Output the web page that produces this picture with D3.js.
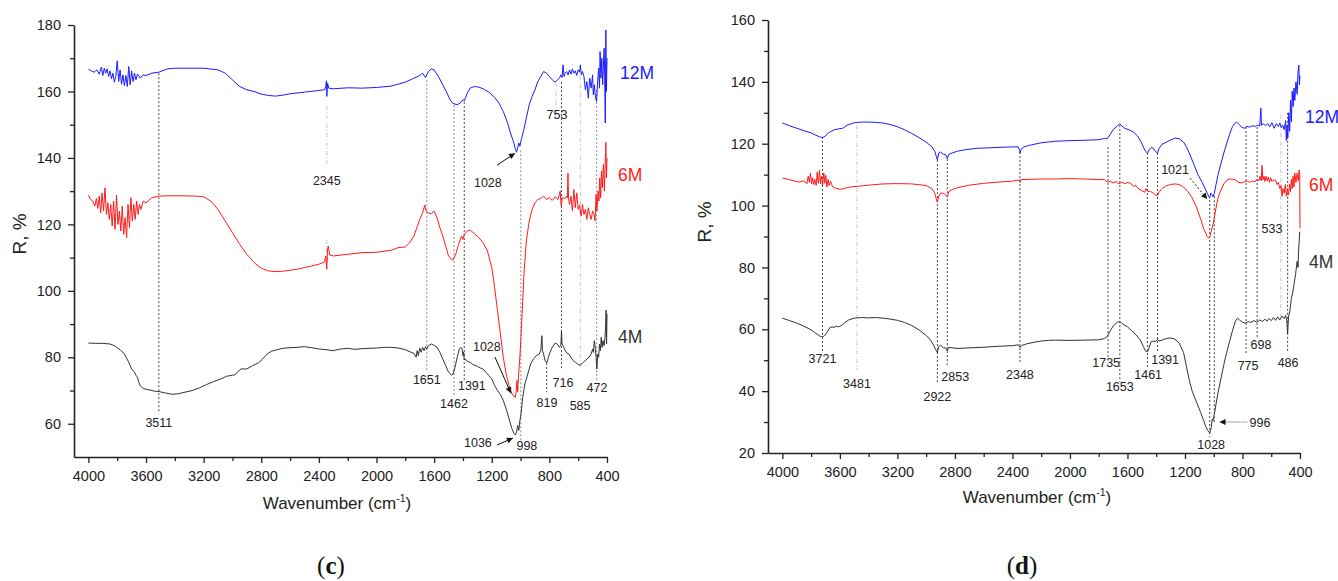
<!DOCTYPE html>
<html>
<head>
<meta charset="utf-8">
<script src="https://cdn.jsdelivr.net/npm/d3@7"></script>
<style>
body { margin: 0; background: #fff; }
</style>
</head>
<body>
<script>
const W = 1338, H = 581;

// ---------- data: panel (c) ----------
const c12M = [[4000,166.7],[3980,166.2],[3960,165.8],[3940,166.5],[3925,165.2],[3910,167.3],[3900,164.8],[3890,167],[3880,165.5],[3870,166.8],[3860,164.5],[3850,166.2],[3840,163.8],[3830,165.5],[3820,162.8],[3810,164.5],[3800,169.2],[3790,163],[3780,166.5],[3770,162.2],[3760,165],[3750,161.8],[3740,164.8],[3730,161.5],[3720,167.5],[3710,162],[3700,166.2],[3690,163],[3680,165.5],[3670,163.5],[3660,165.2],[3640,164],[3620,165],[3600,164.8],[3560,165.5],[3511,165.8],[3450,166.8],[3400,167],[3300,167],[3200,167],[3100,166.5],[3050,165.5],[3000,163.5],[2950,161.5],[2900,160.5],[2850,160],[2800,159.2],[2750,158.8],[2700,158.6],[2650,158.9],[2600,159.3],[2500,159.8],[2400,160.3],[2360,160.5],[2352,161.5],[2348,163.2],[2345,158.5],[2340,162.5],[2332,161],[2300,160.8],[2200,161.1],[2100,161],[2000,161.2],[1900,161.6],[1850,162.2],[1800,162.8],[1750,163.8],[1700,164.8],[1680,165.5],[1660,164.2],[1651,165],[1640,166],[1620,166.8],[1600,166.5],[1570,164.5],[1540,162],[1510,159.5],[1490,157.5],[1470,156.4],[1440,156],[1420,156.5],[1400,157.5],[1390,157.2],[1370,159.5],[1350,161],[1320,161.5],[1290,161.3],[1260,160.8],[1220,159.8],[1180,158.2],[1150,156.5],[1120,154],[1090,150.5],[1070,147.5],[1050,145],[1035,142.5],[1028,141.7],[1020,143],[1012,144.5],[1005,143.5],[995,145.5],[980,148],[960,152],[940,156],[920,158.5],[900,160.5],[880,163],[860,164.5],[840,166],[820,165.5],[800,164.5],[780,163.5],[760,162.8],[745,163.5],[730,164],[720,165],[712,164.2],[705,168],[698,164.5],[690,165.5],[680,166],[670,165],[660,166.5],[650,165.2],[640,166.8],[630,165.5],[620,166.2],[610,164.8],[600,166.5],[590,165.8],[585,168],[578,165],[570,166],[560,164.5],[550,160.5],[540,163],[530,158],[520,164],[510,161],[500,165],[495,159],[488,162],[480,158.3],[472,157],[465,163],[458,167],[452,161],[448,172],[442,164],[436,170],[430,162],[425,168],[420,173],[416,165],[412,150.5],[408,178.5],[404,160],[400,170]];

const c6M = [[4000,128.8],[3985,127.5],[3970,127],[3955,125.5],[3945,127.8],[3935,124.8],[3925,128.5],[3915,123.5],[3905,129.5],[3895,124],[3885,131],[3875,123],[3865,126.5],[3855,121.5],[3845,126],[3835,119.5],[3825,127],[3815,118.5],[3805,128.8],[3795,120],[3785,124],[3775,118],[3765,125.5],[3755,117],[3745,122],[3735,116],[3725,126],[3715,119],[3705,128],[3695,121],[3685,126],[3675,121.5],[3665,127],[3655,123],[3645,126],[3635,124.5],[3620,127],[3600,126.5],[3560,128],[3511,128.5],[3450,128.6],[3350,128.6],[3250,128.5],[3200,128.3],[3150,127],[3100,124.5],[3050,121],[3000,117.5],[2950,114],[2900,111],[2850,108.5],[2800,106.8],[2750,106],[2700,105.8],[2650,105.9],[2600,106.2],[2550,106.5],[2500,107],[2450,107.5],[2400,108],[2360,108.7],[2352,110.5],[2348,108],[2345,106.5],[2340,112.5],[2335,113.5],[2325,110.8],[2300,110.5],[2200,111],[2100,111.5],[2000,111.6],[1900,112.2],[1850,113],[1800,113.2],[1770,114.5],[1740,116.5],[1720,119],[1700,121.5],[1680,123.5],[1665,125.8],[1655,124],[1640,123.5],[1620,123.2],[1600,124],[1580,122],[1560,119],[1540,116.5],[1520,113.5],[1500,110.5],[1480,109.5],[1470,109.2],[1450,111],[1430,114],[1410,116.5],[1400,115.5],[1390,117],[1370,118],[1350,118.3],[1320,117.2],[1290,116],[1260,114.5],[1230,112],[1200,107],[1180,101],[1160,94],[1140,87],[1120,80],[1100,75],[1080,71.5],[1060,69],[1045,68.2],[1036,68],[1030,70],[1025,73],[1020,69.5],[1015,74],[1005,80],[995,88],[985,97],[975,106],[960,115],[940,121],[920,124.5],[900,126.5],[880,127.5],[860,127.8],[840,128.5],[820,127.5],[800,128],[780,127.2],[760,128.3],[740,127.5],[725,130],[718,125.5],[710,128],[700,128],[690,127.8],[680,128.5],[675,128],[671,135.4],[667,128],[660,126],[650,128.5],[640,124],[630,130.5],[620,125],[610,129.5],[600,124.5],[590,125.8],[580,122.5],[570,126],[560,123],[550,124.5],[540,121.5],[530,125],[520,123],[510,121.5],[500,124],[490,123],[483,121],[476,129],[470,124],[462,130],[456,127],[450,134],[444,128],[438,136],[432,131],[425,138],[418,130],[412,139],[408,144.7],[404,134],[400,140]];

const c4M = [[4000,84.3],[3950,84.2],[3900,84.2],[3850,84],[3820,83.5],[3780,82.3],[3750,81],[3720,78.5],[3700,76.5],[3680,75.5],[3670,74.6],[3660,74],[3650,72.5],[3640,71.4],[3620,70.6],[3580,70.2],[3540,69.8],[3511,69.7],[3470,69.3],[3420,68.9],[3380,69],[3330,69.5],[3280,70],[3230,70.8],[3180,71.8],[3130,72.7],[3080,73.5],[3040,74.3],[3000,74.6],[2980,74.8],[2960,75.8],[2940,76.5],[2900,76.5],[2860,77.5],[2820,78.3],[2790,79.5],[2760,81],[2730,81.8],[2700,82.2],[2650,82.7],[2600,82.9],[2550,83],[2500,83.2],[2450,82.9],[2400,82.5],[2350,82.3],[2300,82],[2250,82.5],[2200,82.7],[2150,82.4],[2100,82.6],[2000,82.8],[1950,83],[1900,83],[1850,82.8],[1800,82.3],[1760,81.5],[1740,81.2],[1725,80],[1718,82],[1710,80.5],[1700,82.8],[1690,81.5],[1680,83],[1670,82],[1660,83.2],[1651,82.5],[1640,83.5],[1620,84],[1600,83.6],[1580,83],[1560,81.5],[1540,79.5],[1520,77.5],[1500,75.5],[1480,74.7],[1470,74.8],[1455,77],[1440,80],[1425,82.5],[1415,83],[1405,82.5],[1400,80.5],[1395,81.5],[1391,79.2],[1385,79.5],[1370,78.8],[1350,78.5],[1330,77.8],[1300,77.3],[1280,76.8],[1260,76.5],[1240,75.5],[1220,74.5],[1200,73.5],[1180,71.5],[1160,70],[1140,68.8],[1120,67],[1100,64.5],[1080,61.5],[1060,58.5],[1045,57],[1036,56.6],[1028,57.5],[1020,59.5],[1012,58],[1005,61],[998,62.5],[992,65],[985,68],[970,72],[950,75],[930,78],[910,79.5],[890,80.5],[870,81],[860,82],[852,86.5],[848,82],[840,81],[830,79],[819,78.3],[810,79.5],[800,81],[780,83],[760,84.3],[745,84],[730,83],[720,83.8],[716,88],[712,84],[700,83],[690,82],[680,81.3],[665,81],[650,80],[635,79],[620,78.5],[605,78],[590,77.7],[580,77.8],[570,78.3],[555,78.8],[540,79.5],[525,80],[510,81],[500,82.5],[495,81.5],[488,85],[482,83],[476,80],[470,76.5],[464,81],[458,80],[452,84],[446,82],[440,86],[434,83],[428,85],[420,83.5],[414,86],[410,89],[406,94.2],[403,84],[400,93]];

// ---------- data: panel (d) ----------
const d12M = [[4000,126.7],[3950,125.8],[3900,125],[3850,124.2],[3800,123.5],[3770,122.8],[3740,122.2],[3720,122],[3700,122.5],[3680,123.5],[3660,124],[3640,124.5],[3610,124.8],[3580,125],[3550,126],[3500,126.8],[3450,127],[3400,127],[3350,126.9],[3300,126.7],[3250,126.2],[3200,125.5],[3150,124.5],[3100,123.3],[3050,122],[3000,120.5],[2960,119],[2940,117.5],[2930,116],[2922,114.8],[2912,117],[2900,117.3],[2880,116.6],[2865,116.5],[2853,115.2],[2843,116.5],[2820,117],[2780,117.6],[2720,118.1],[2650,118.5],[2550,118.7],[2450,118.9],[2360,119],[2350,117.8],[2346,117],[2340,118.2],[2320,119],[2280,119.5],[2200,120.3],[2100,120.8],[2000,121],[1900,121.1],[1800,121.3],[1760,121.7],[1741,121.6],[1720,123],[1700,124.5],[1670,125.8],[1653,126.4],[1640,125.8],[1620,125],[1590,124.5],[1560,123.8],[1530,122.5],[1510,121],[1490,119],[1475,117.6],[1461,117],[1450,118],[1435,118.8],[1420,118.5],[1405,117.5],[1391,117],[1380,118.5],[1360,119.8],[1330,120.5],[1300,121.2],[1270,121.8],[1240,121.6],[1210,120.5],[1190,119],[1170,117],[1140,113.5],[1110,110],[1080,107.5],[1060,105.5],[1045,104],[1035,103],[1028,102.4],[1020,104],[1012,103.5],[1004,102.8],[996,104],[985,106.5],[970,110],[950,113.5],[930,117],[910,120],[890,123],[870,125.5],[855,126.5],[840,127],[825,126.3],[805,125.3],[785,125],[770,125.6],[750,125.4],[730,125.8],[710,125.6],[695,126],[680,125.7],[672,131.5],[668,126],[655,126.5],[640,125.8],[625,126.5],[610,125.5],[595,126.8],[580,125],[565,126.5],[550,125.5],[540,126.7],[530,125.2],[520,126],[510,124.5],[500,127.5],[495,121],[490,126],[485,122],[478,130],[472,124],[466,134],[460,127],[454,137],[448,132],[442,138],[436,134],[428,140],[420,136],[414,143],[408,145.4],[404,139],[400,142]];

const d6M = [[4000,108.9],[3960,108.5],[3920,108],[3880,107.6],[3850,108],[3830,107],[3820,109.5],[3812,107.5],[3805,110.5],[3797,107],[3790,109],[3782,106.8],[3775,108.5],[3765,106.5],[3758,110.8],[3750,107.2],[3742,111.5],[3735,107],[3728,109.5],[3720,106.5],[3712,110.5],[3705,107.2],[3698,109.8],[3690,106],[3682,108.5],[3675,106.5],[3665,107.8],[3650,106],[3630,105.6],[3600,105.3],[3570,105.5],[3530,106],[3480,106.2],[3400,106.6],[3300,107],[3200,107.1],[3100,107],[3000,106.5],[2960,105.5],[2940,104],[2930,102.2],[2922,101.1],[2912,103],[2900,104],[2880,104],[2865,103.5],[2853,102.8],[2843,104.5],[2820,105.2],[2780,105.8],[2700,106.6],[2600,107.2],[2500,107.6],[2400,107.9],[2350,108.3],[2346,107.5],[2340,108.4],[2200,108.6],[2100,108.6],[2000,108.7],[1900,108.6],[1800,108.4],[1760,108.4],[1741,107.6],[1720,107.8],[1700,107.3],[1680,107.8],[1660,107],[1640,107.6],[1620,107.1],[1600,107.4],[1580,107.3],[1560,106.2],[1540,106.5],[1520,105.3],[1500,104.8],[1480,104.3],[1470,105.5],[1460,104.6],[1440,104.6],[1420,104],[1405,103.4],[1391,103.2],[1380,104.3],[1360,105.5],[1330,106.4],[1300,106.8],[1270,107],[1240,106.8],[1210,106],[1180,104.5],[1150,102.5],[1120,99.5],[1090,95.5],[1070,92.5],[1055,91],[1045,90],[1035,89.5],[1025,90.2],[1015,92],[1000,95],[985,99],[970,102.5],[950,105],[930,107],[910,108.2],[890,108.6],[870,108.5],[850,108.3],[830,107.6],[810,107.3],[790,107.6],[770,108],[750,107.5],[730,108],[712,107.7],[700,108.5],[686,108],[678,109.5],[670,108],[664,113],[658,108.3],[650,109.5],[644,107.8],[636,109.5],[628,108],[620,109.2],[612,107.5],[604,109],[596,107.8],[585,108.2],[570,108.2],[560,106.8],[550,107.5],[540,105.5],[532,106.5],[525,103],[518,105.5],[510,104],[502,106.8],[495,103],[488,105.5],[480,103.4],[472,107],[466,104.5],[460,108.5],[454,105.5],[448,109.5],[442,106],[436,110.5],[428,107.5],[420,110.5],[412,108],[406,111.5],[402,110],[400,92.7]];

const d4M = [[4000,63.6],[3950,62.8],[3900,62],[3850,61],[3800,59.8],[3770,58.8],[3740,57.8],[3721,57.5],[3705,58],[3690,59],[3670,60.5],[3655,60.8],[3640,60.6],[3625,61],[3610,60.8],[3590,61.2],[3570,62],[3540,63],[3500,63.6],[3450,63.8],[3400,63.7],[3350,63.8],[3300,63.6],[3250,63.3],[3200,62.9],[3150,62.2],[3100,61.2],[3050,59.8],[3000,58],[2970,56.5],[2950,55],[2935,53.5],[2922,52.5],[2912,54.5],[2900,54.8],[2880,54],[2865,54],[2853,53],[2843,54.2],[2820,54],[2780,53.8],[2700,54],[2600,54.2],[2500,54.5],[2400,54.7],[2360,55],[2346,54.1],[2335,54.8],[2300,55.3],[2250,55.8],[2200,56.2],[2150,56.4],[2100,56.5],[2000,56.4],[1900,56.5],[1800,56.6],[1760,57],[1741,57.6],[1720,59.5],[1700,61],[1670,62.3],[1653,62.5],[1640,62],[1620,61.3],[1600,60.8],[1570,59.5],[1540,58.2],[1510,56.5],[1490,54.5],[1475,53],[1461,52.7],[1450,54],[1435,56],[1420,56.2],[1405,56],[1391,56.8],[1380,56.2],[1360,56.5],[1330,57],[1300,57.2],[1270,56.8],[1240,55.5],[1210,52.5],[1190,48],[1170,43.5],[1150,40],[1120,36.5],[1090,33],[1070,30.5],[1055,28.5],[1040,27.2],[1028,26.5],[1018,28],[1010,31],[1004,30.5],[996,32.5],[985,35.5],[970,39.5],[950,44],[930,48.5],[910,52.5],[890,56],[870,59.5],[850,62.5],[835,63.6],[820,63],[800,62.3],[780,62],[760,62.5],[740,62.2],[720,62.8],[700,62.3],[680,63],[660,62.5],[645,63.3],[630,62.6],[615,63.5],[600,62.8],[585,63.8],[570,62.9],[555,64],[540,63],[525,64.3],[510,63.4],[500,64.5],[492,63],[486,58.5],[480,64],[470,66],[460,70],[450,72],[440,75],[430,78],[420,82],[414,80],[410,85],[406,88],[402,91.5],[400,91.5]];

// ---------- axis ticks ----------
const xMajor = [4000, 3600, 3200, 2800, 2400, 2000, 1600, 1200, 800, 400];
const xMinor = [3800, 3400, 3000, 2600, 2200, 1800, 1400, 1000, 600];
const yMajorC = [60, 80, 100, 120, 140, 160, 180];
const yMinorC = [70, 90, 110, 130, 150, 170];
const yMajorD = [20, 40, 60, 80, 100, 120, 140, 160];
const yMinorD = [30, 50, 70, 90, 110, 130, 150];

const seriesNames = ["12M", "6M", "4M"];
const seriesColors = ["#1a1aff", "#ff1a1a", "#333333"];
const nameValC = [165.5, 134.8, 86];
const nameValD = [128.6, 106.6, 81.8];

// ---------- peak marks: [wavenumber, from, to, tone] ----------
const linesC = [[3511,165.5,63.2,"d"],[2345,155.6,137.8,"l"],[2345,115.3,108.6,"l"],[1651,163.4,76.2,"m"],[1462,155.9,68.6,"m"],[1391,156.8,73.2,"d"],[998,142.3,55.1,"m"],[819,78.3,69.5,"d"],[753,162.5,152,"l"],[716,162.8,76.2,"d"],[585,164.9,77.1,"l"],[472,160.4,73.2,"m"]];
const labelsC = [["3511",3511,60.2],["2345",2345,133.3],["1651",1651,73.2],["1462",1462,66.2],["1391",1338,71.4],["1028",1227,132.7],["998",956,53.3],["1036",1296,54.2],["1028",1234,83.1],["819",817,66.5],["753",747,152.9],["716",706,72.3],["585",587,65.6],["472",470,71]];
const arrowsC = [[[1164,137.8],[1039,141.4]],[[1164,53.6],[1053,55.7]],[[1178,80.1],[1067,69.2]]];

const linesD = [[3721,122.2,52.7,"d"],[3481,126,46.8,"l"],[2922,114.7,43,"d"],[2853,115,47.8,"d"],[2348,117.3,49.1,"d"],[1735,118.9,50.7,"d"],[1653,126,43,"d"],[1461,117,47.8,"d"],[1391,117,52.7,"d"],[1028,101.8,25.2,"d"],[996,103,30,"d"],[775,125.4,51.7,"d"],[698,125.4,57.2,"d"],[533,129.3,64,"l"],[486,130,52.7,"d"]];
const labelsD = [["3721",3721,50.4],["3481",3481,42.3],["2922",2922,38.1],["2853",2798,44.6],["2348",2348,45.5],["1735",1748,49.1],["1653",1653,41.3],["1461",1456,45.5],["1391",1338,50.1],["1021",1269,111.5],["1028",1018,22.6],["996",678,29.7],["775",761,48.1],["698",671,54.9],["533",595,92.7],["486",483,49.1]];
const arrowsD = [[[1164,108.9],[1046,102.1]],[[765,30],[960,30]]];

const tones = { d: ["#444", "2,2"], m: ["#888", "2,2"], l: ["#c4c4c4", "4,2,1,2"] };
const SANS = "'Liberation Sans', Arial, sans-serif";

let svg = d3.select("body").append("svg")
    .attr("width", W)
    .attr("height", H)
    .style("background", "#fff")
    .style("font-family", SANS);

svg.append("defs").append("marker")
    .attr("id", "arr")
    .attr("viewBox", "0 0 10 10")
    .attr("refX", 10).attr("refY", 5)
    .attr("markerWidth", 9).attr("markerHeight", 6)
    .attr("markerUnits", "userSpaceOnUse")
    .attr("orient", "auto")
    .append("path")
    .attr("d", "M0,0 L10,5 L0,10 z")
    .attr("fill", "#111");

function panel(p) {
    let x = d3.scaleLinear().domain([4100, 400]).range([p.left, p.right]);
    let y = d3.scaleLinear().domain(p.yDom).range([p.bottom, p.top]);
    let g = svg.append("g");

    // peak marker lines (behind curves)
    g.selectAll(".pk").data(p.lines).enter().append("line")
        .attr("x1", d => x(d[0])).attr("x2", d => x(d[0]))
        .attr("y1", d => y(d[1])).attr("y2", d => y(d[2]))
        .attr("stroke", d => tones[d[3]][0])
        .attr("stroke-dasharray", d => tones[d[3]][1])
        .attr("stroke-width", 1);

    let line = d3.line().x(d => x(d[0])).y(d => y(d[1]));
    p.series.forEach((s, i) => {
        g.append("path").datum(s)
            .attr("d", line)
            .attr("fill", "none")
            .attr("stroke", seriesColors[i])
            .attr("stroke-width", 1);
        g.append("text")
            .attr("x", x(400) + p.nameGap[i])
            .attr("y", y(p.nameVals[i]))
            .attr("dy", "0.35em")
            .attr("font-size", 17.5)
            .attr("fill", seriesColors[i])
            .text(seriesNames[i]);
    });

    g.selectAll(".lb").data(p.labels).enter().append("text")
        .attr("x", d => x(d[1])).attr("y", d => y(d[2]))
        .attr("dy", "0.35em")
        .attr("text-anchor", "middle")
        .attr("font-size", 12.5)
        .attr("fill", "#222")
        .text(d => d[0]);

    g.selectAll(".ar").data(p.arrows).enter().append("line")
        .attr("x1", d => x(d[0][0])).attr("y1", d => y(d[0][1]))
        .attr("x2", d => x(d[1][0])).attr("y2", d => y(d[1][1]))
        .attr("stroke", (d, i) => p.arrowColor[i])
        .attr("stroke-dasharray", (d, i) => p.arrowDash[i])
        .attr("stroke-width", 1)
        .attr("marker-end", "url(#arr)");

    // axes
    g.append("g").attr("transform", "translate(0," + p.bottom + ")")
        .call(d3.axisBottom(x).tickValues(xMajor).tickFormat(d3.format("d"))
            .tickSize(6).tickPadding(8).tickSizeOuter(0));
    g.append("g").attr("transform", "translate(0," + p.bottom + ")")
        .call(d3.axisBottom(x).tickValues(xMinor).tickSize(4).tickFormat("").tickSizeOuter(0))
        .select(".domain").remove();
    g.append("g").attr("transform", "translate(" + p.left + ",0)")
        .call(d3.axisLeft(y).tickValues(p.yMajor).tickSize(6).tickPadding(7).tickSizeOuter(0));
    g.append("g").attr("transform", "translate(" + p.left + ",0)")
        .call(d3.axisLeft(y).tickValues(p.yMinor).tickSize(4).tickFormat("").tickSizeOuter(0))
        .select(".domain").remove();
    g.selectAll(".domain").attr("stroke", "#222").attr("stroke-width", 1.6);
    g.selectAll(".tick line").attr("stroke", "#222").attr("stroke-width", 1.3);
    g.selectAll(".tick text").attr("font-size", 14.5).attr("fill", "#222")
        .attr("font-family", SANS);

    // titles
    let t = g.append("text")
        .attr("x", p.xTitle[0]).attr("y", p.xTitle[1])
        .attr("text-anchor", "middle")
        .attr("font-size", 17).attr("fill", "#222");
    t.append("tspan").text("Wavenumber (cm");
    t.append("tspan").attr("font-size", 10.5).attr("dy", -7).text("-1");
    t.append("tspan").attr("dy", 7).text(")");

    g.append("text")
        .attr("transform", "translate(" + p.yTitle[0] + "," + p.yTitle[1] + ") rotate(-90)")
        .attr("text-anchor", "middle")
        .attr("font-size", 19).attr("fill", "#222")
        .text("R, %");

    let lt = g.append("text")
        .attr("x", p.letter[0]).attr("y", p.letter[1])
        .attr("text-anchor", "middle")
        .style("font-family", "'Liberation Serif', 'DejaVu Serif', serif")
        .attr("font-size", 25).attr("fill", "#111");
    lt.append("tspan").text("(");
    lt.append("tspan").attr("font-weight", "bold").text(p.letter[2]);
    lt.append("tspan").text(")");
}

panel({
    left: 74, right: 607, top: 25, bottom: 457, yDom: [50, 180],
    yMajor: yMajorC, yMinor: yMinorC,
    series: [c12M, c6M, c4M], nameVals: nameValC, nameGap: [13, 11, 11],
    lines: linesC, labels: labelsC, arrows: arrowsC,
    arrowColor: ["#111", "#111", "#111"], arrowDash: [null, null, null],
    xTitle: [337, 509], yTitle: [26, 234], letter: [331, 574, "c"]
});

panel({
    left: 768, right: 1300, top: 20, bottom: 453, yDom: [20, 160],
    yMajor: yMajorD, yMinor: yMinorD,
    series: [d12M, d6M, d4M], nameVals: nameValD, nameGap: [5, 9, 9],
    lines: linesD, labels: labelsD, arrows: arrowsD,
    arrowColor: ["#222", "#aaa"], arrowDash: ["2,2", null],
    xTitle: [1037, 503], yTitle: [711, 222], letter: [1022, 574, "d"]
});
</script>
</body>
</html>
